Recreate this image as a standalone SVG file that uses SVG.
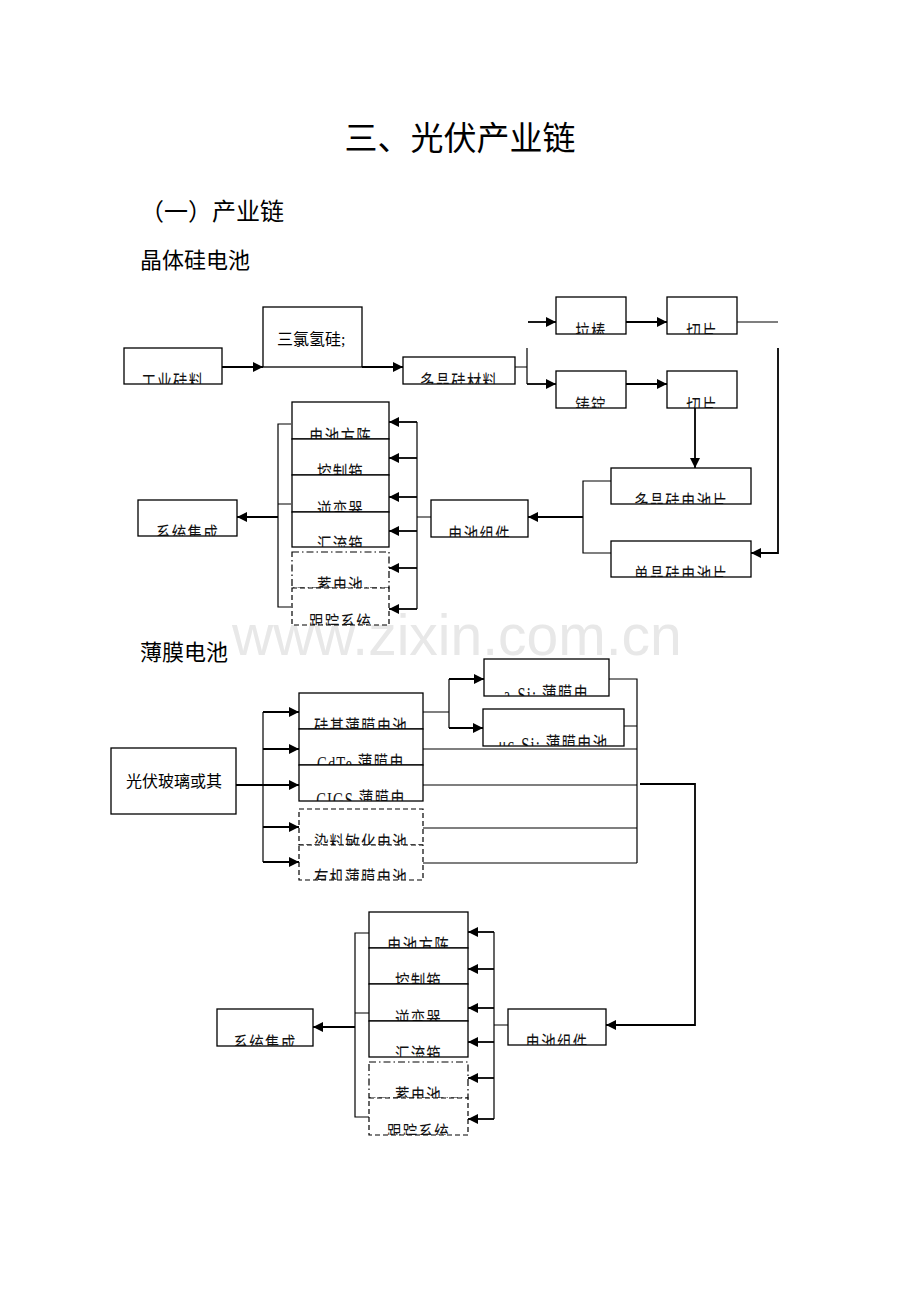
<svg xmlns="http://www.w3.org/2000/svg" width="920" height="1302" viewBox="0 0 920 1302">
<style>
.bg{fill:#fff}
.box{fill:#fff;stroke:#000;stroke-width:1.3}
.dash{fill:#fff;stroke:#000;stroke-width:1.2;stroke-dasharray:5,3}
.dashdot{fill:#fff;stroke:#000;stroke-width:1.2;stroke-dasharray:7,3,1.5,3}
.lbl{font-family:"Liberation Serif","Noto Sans CJK SC",serif;font-size:14.5px;letter-spacing:1.2px;fill:#111;text-anchor:middle}
.big{font-family:"Liberation Serif","Noto Sans CJK SC",serif;font-size:16px;fill:#000}
.h{font-family:"Noto Sans CJK SC",sans-serif;fill:#000}
.ln{fill:none;stroke:#000;stroke-width:1.2}
.ar{fill:none;stroke:#000;stroke-width:1.8;marker-end:url(#ah)}
.wm{font-family:"Liberation Sans",sans-serif;font-size:57px;fill:#e8e8e8}
</style>
<defs>
<marker id="ah" markerUnits="userSpaceOnUse" markerWidth="10" markerHeight="10" refX="10" refY="5" orient="auto">
<path d="M0,0 L10,5 L0,10 z" fill="#000"/>
</marker>
</defs>
<rect class="bg" x="0" y="0" width="920" height="1302"/>
<text class="wm" x="232" y="655">www.zixin.com.cn</text>
<g id="headings">
<text class="h" x="460" y="150" font-size="33" text-anchor="middle">三、光伏产业链</text>
<text class="h" x="140" y="220" font-size="24">（一）产业链</text>
<text class="h" x="140" y="268" font-size="22">晶体硅电池</text>
<text class="h" x="140" y="660" font-size="22">薄膜电池</text>
</g>
<g id="connectors">
<path class="ar" d="M222,367 H263"/>
<path class="ar" d="M362,367 H403"/>
<path class="ln" d="M515,367 H527 M527,348 V384"/>
<path class="ar" d="M527,384 H556"/>
<path class="ar" d="M528,322 H556"/>
<path class="ar" d="M626,322 H667"/>
<path class="ar" d="M626,384 H667"/>
<path class="ln" d="M737,322 H778"/>
<path class="ar" d="M778,348 V553 H751"/>
<path class="ar" d="M695,408 V468"/>
<path class="ln" d="M611,481 H583 V553 H611"/>
<path class="ar" d="M583,517 H528"/>
<path class="ln" d="M431,517 H417 M417,422 V609"/>
<path class="ar" d="M417,422 H389"/>
<path class="ar" d="M417,458 H389"/>
<path class="ar" d="M417,497 H389"/>
<path class="ar" d="M417,531 H389"/>
<path class="ar" d="M417,568 H389"/>
<path class="ar" d="M417,609 H389"/>
<path class="ln" d="M291,424 H278 V607 H291 M291,504 H278"/>
<path class="ar" d="M278,517 H237"/>
<path class="ar" d="M236,785 H299"/>
<path class="ln" d="M263,712 V862"/>
<path class="ar" d="M263,712 H299"/>
<path class="ar" d="M263,749 H299"/>
<path class="ar" d="M263,827 H299"/>
<path class="ar" d="M263,862 H299"/>
<path class="ln" d="M423,712 H449 M449,679 V728"/>
<path class="ar" d="M449,679 H484"/>
<path class="ar" d="M449,728 H483"/>
<path class="ln" d="M609,679 H637 V863 M624,726 H637 M423,749 H637 M423,785 H637 M423,828 H637 M423,863 H637"/>
<path class="ar" d="M640,784 H695 V1025 H606"/>
<path class="ln" d="M508,1025 H494 M494,932 V1119"/>
<path class="ar" d="M494,932 H468"/>
<path class="ar" d="M494,969 H468"/>
<path class="ar" d="M494,1008 H468"/>
<path class="ar" d="M494,1042 H468"/>
<path class="ar" d="M494,1078 H468"/>
<path class="ar" d="M494,1119 H468"/>
<path class="ln" d="M369,933 H355 V1117 H369 M369,1013 H355"/>
<path class="ar" d="M355,1027 H313"/>
</g>
<g id="n-gyhl"><rect class="box" x="124" y="348" width="98" height="36"/><svg x="124" y="348" width="98" height="36"><text class="lbl" transform="scale(1,1.4)" x="49" y="30">工业硅料</text></svg></g>
<g id="n-slqg"><rect class="box" x="263" y="307" width="99" height="60"/><text class="big" x="277" y="345">三氯氢硅;</text></g>
<g id="n-djgcl"><rect class="box" x="403" y="357" width="112" height="27"/><svg x="403" y="357" width="112" height="27"><text class="lbl" transform="scale(1,1.4)" x="56" y="23.6">多晶硅材料</text></svg></g>
<g id="n-lb"><rect class="box" x="556" y="297" width="70" height="37"/><svg x="556" y="297" width="70" height="37"><text class="lbl" transform="scale(1,1.4)" x="35" y="30.7">拉棒</text></svg></g>
<g id="n-qp1"><rect class="box" x="667" y="297" width="70" height="37"/><svg x="667" y="297" width="70" height="37"><text class="lbl" transform="scale(1,1.4)" x="35" y="30.7">切片</text></svg></g>
<g id="n-zd"><rect class="box" x="556" y="371" width="70" height="37"/><svg x="556" y="371" width="70" height="37"><text class="lbl" transform="scale(1,1.4)" x="35" y="30.7">铸锭</text></svg></g>
<g id="n-qp2"><rect class="box" x="667" y="371" width="70" height="37"/><svg x="667" y="371" width="70" height="37"><text class="lbl" transform="scale(1,1.4)" x="35" y="30.7">切片</text></svg></g>
<g id="n-djdc"><rect class="box" x="611" y="468" width="140" height="36"/><svg x="611" y="468" width="140" height="36"><text class="lbl" transform="scale(1,1.4)" x="70" y="30">多晶硅电池片</text></svg></g>
<g id="n-dandc"><rect class="box" x="611" y="541" width="140" height="36"/><svg x="611" y="541" width="140" height="36"><text class="lbl" transform="scale(1,1.4)" x="70" y="30">单晶硅电池片</text></svg></g>
<g id="n-zj1"><rect class="box" x="431" y="500" width="97" height="37"/><svg x="431" y="500" width="97" height="37"><text class="lbl" transform="scale(1,1.4)" x="48.5" y="30.7">电池组件</text></svg></g>
<g id="n-xt1"><rect class="box" x="138" y="500" width="99" height="36"/><svg x="138" y="500" width="99" height="36"><text class="lbl" transform="scale(1,1.4)" x="49.5" y="30">系统集成</text></svg></g>
<g id="n-fz1"><rect class="box" x="292" y="402" width="97" height="37"/><svg x="292" y="402" width="97" height="37"><text class="lbl" transform="scale(1,1.4)" x="48.5" y="30.7">电池方阵</text></svg></g>
<g id="n-kz1"><rect class="box" x="292" y="439" width="97" height="36"/><svg x="292" y="439" width="97" height="36"><text class="lbl" transform="scale(1,1.4)" x="48.5" y="30">控制箱</text></svg></g>
<g id="n-nb1"><rect class="box" x="292" y="475" width="97" height="37"/><svg x="292" y="475" width="97" height="37"><text class="lbl" transform="scale(1,1.4)" x="48.5" y="30.7">逆变器</text></svg></g>
<g id="n-hl1"><rect class="box" x="292" y="512" width="97" height="35"/><svg x="292" y="512" width="97" height="35"><text class="lbl" transform="scale(1,1.4)" x="48.5" y="29.3">汇流箱</text></svg></g>
<g id="n-xd1"><rect class="dashdot" x="292" y="552" width="97" height="36"/><svg x="292" y="552" width="97" height="36"><text class="lbl" transform="scale(1,1.4)" x="48.5" y="30">蓄电池</text></svg></g>
<g id="n-gz1"><rect class="dash" x="292" y="588" width="97" height="37"/><svg x="292" y="588" width="97" height="37"><text class="lbl" transform="scale(1,1.4)" x="48.5" y="30.7">跟踪系统</text></svg></g>
<g id="n-glbl"><rect class="box" x="111" y="748" width="125" height="66"/><text class="big" x="174" y="787" text-anchor="middle">光伏玻璃或其</text></g>
<g id="n-gj"><rect class="box" x="299" y="693" width="124" height="36"/><svg x="299" y="693" width="124" height="36"><text class="lbl" transform="scale(1,1.4)" x="62" y="30">硅基薄膜电池</text></svg></g>
<g id="n-cdte"><rect class="box" x="299" y="729" width="124" height="36"/><svg x="299" y="729" width="124" height="36"><text class="lbl" transform="scale(1,1.4)" x="62" y="30">CdTe 薄膜电</text></svg></g>
<g id="n-cigs"><rect class="box" x="299" y="765" width="124" height="36"/><svg x="299" y="765" width="124" height="36"><text class="lbl" transform="scale(1,1.4)" x="62" y="30">CIGS 薄膜电</text></svg></g>
<g id="n-rl"><rect class="dash" x="299" y="809" width="124" height="36"/><svg x="299" y="809" width="124" height="36"><text class="lbl" transform="scale(1,1.4)" x="62" y="30">染料敏化电池</text></svg></g>
<g id="n-yj"><rect class="dash" x="299" y="845" width="124" height="35"/><svg x="299" y="845" width="124" height="35"><text class="lbl" transform="scale(1,1.4)" x="62" y="29.3">有机薄膜电池</text></svg></g>
<g id="n-asi"><rect class="box" x="484" y="659" width="125" height="37"/><svg x="484" y="659" width="125" height="37"><text class="lbl" transform="scale(1,1.4)" x="62.5" y="30.7">a-Si: 薄膜电</text></svg></g>
<g id="n-ucsi"><rect class="box" x="483" y="709" width="141" height="37"/><svg x="483" y="709" width="141" height="37"><text class="lbl" transform="scale(1,1.4)" x="70.5" y="30.7">μc-Si: 薄膜电池</text></svg></g>
<g id="n-zj2"><rect class="box" x="508" y="1009" width="98" height="36"/><svg x="508" y="1009" width="98" height="36"><text class="lbl" transform="scale(1,1.4)" x="49" y="30">电池组件</text></svg></g>
<g id="n-xt2"><rect class="box" x="217" y="1009" width="96" height="37"/><svg x="217" y="1009" width="96" height="37"><text class="lbl" transform="scale(1,1.4)" x="48" y="30.7">系统集成</text></svg></g>
<g id="n-fz2"><rect class="box" x="369" y="912" width="99" height="36"/><svg x="369" y="912" width="99" height="36"><text class="lbl" transform="scale(1,1.4)" x="49.5" y="30">电池方阵</text></svg></g>
<g id="n-kz2"><rect class="box" x="369" y="948" width="99" height="36"/><svg x="369" y="948" width="99" height="36"><text class="lbl" transform="scale(1,1.4)" x="49.5" y="30">控制箱</text></svg></g>
<g id="n-nb2"><rect class="box" x="369" y="984" width="99" height="37"/><svg x="369" y="984" width="99" height="37"><text class="lbl" transform="scale(1,1.4)" x="49.5" y="30.7">逆变器</text></svg></g>
<g id="n-hl2"><rect class="box" x="369" y="1021" width="99" height="36"/><svg x="369" y="1021" width="99" height="36"><text class="lbl" transform="scale(1,1.4)" x="49.5" y="30">汇流箱</text></svg></g>
<g id="n-xd2"><rect class="dashdot" x="369" y="1062" width="99" height="36"/><svg x="369" y="1062" width="99" height="36"><text class="lbl" transform="scale(1,1.4)" x="49.5" y="30">蓄电池</text></svg></g>
<g id="n-gz2"><rect class="dash" x="369" y="1098" width="99" height="37"/><svg x="369" y="1098" width="99" height="37"><text class="lbl" transform="scale(1,1.4)" x="49.5" y="30.7">跟踪系统</text></svg></g>
</svg>
